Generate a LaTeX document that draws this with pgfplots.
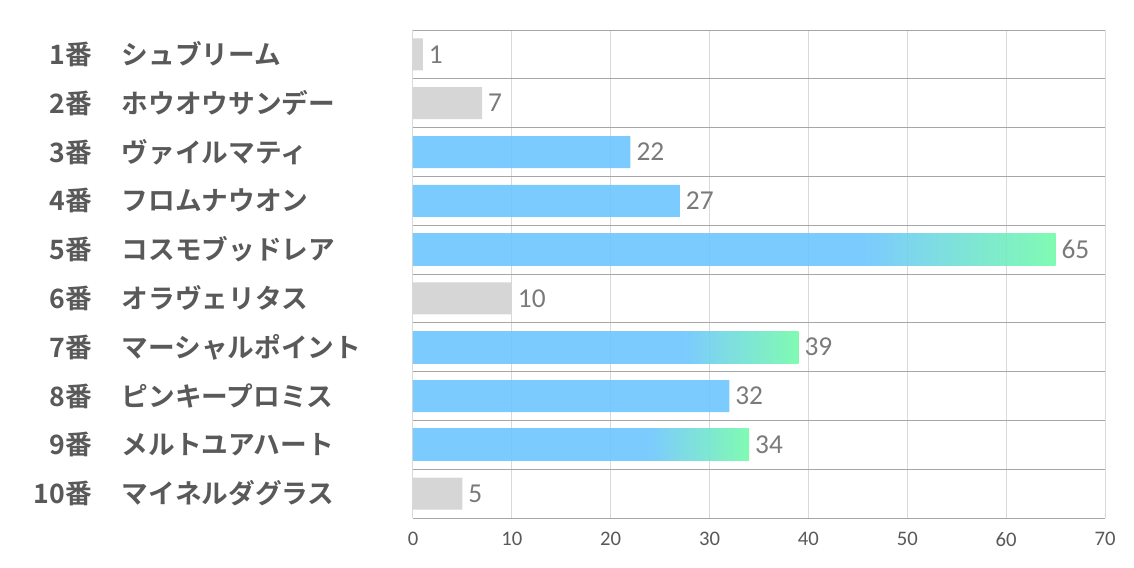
\documentclass[border=0pt]{standalone}
\usepackage{pgfplots}
\pgfplotsset{compat=1.18}
\usepackage{fontspec}
\setmainfont{Carlito}
\newfontfamily\jp{Noto Sans CJK JP Bold}
\definecolor{barblue}{RGB}{110,197,255}
\definecolor{bargreen}{RGB}{114,250,170}
\definecolor{bargray}{RGB}{214,214,214}
\definecolor{sepgray}{RGB}{166,166,166}
\definecolor{gridgray}{RGB}{217,217,217}
\definecolor{txtgray}{RGB}{89,89,89}
\definecolor{valgray}{RGB}{122,122,122}
\pgfdeclarehorizontalshading{barshade}{100bp}{color(0bp)=(barblue); color(25bp)=(barblue); color(60bp)=(barblue); color(75bp)=(bargreen); color(100bp)=(bargreen)}
\newcommand{\lab}[2]{\makebox[46.5pt][r]{#1}\hspace{22.5pt}\makebox[193.5pt][l]{#2}}
\begin{document}
\begin{tikzpicture}
\begin{axis}[
  scale only axis, width=519pt, height=366pt,
  xmin=0, xmax=70, ymin=-0.5, ymax=9.5, y dir=reverse,
  xtick={0,10,20,30,40,50,60,70},
  ytick={0,1,2,3,4,5,6,7,8,9},
  yticklabels={
    {\lab{1番}{シュブリーム}},
    {\lab{2番}{ホウオウサンデー}},
    {\lab{3番}{ヴァイルマティ}},
    {\lab{4番}{フロムナウオン}},
    {\lab{5番}{コスモブッドレア}},
    {\lab{6番}{オラヴェリタス}},
    {\lab{7番}{マーシャルポイント}},
    {\lab{8番}{ピンキープロミス}},
    {\lab{9番}{メルトユアハート}},
    {\lab{10番}{マイネルダグラス}}},
  yticklabel style={font=\jp\fontsize{20}{22}\selectfont, text=txtgray, anchor=east, inner sep=0pt, xshift=-24.75pt},
  xticklabel style={font=\fontsize{15.5}{17}\selectfont, text=txtgray, yshift=-7pt},
  /pgf/number format/assume math mode=true,
  minor ytick={-0.5,0.5,1.5,2.5,3.5,4.5,5.5,6.5,7.5,8.5,9.5},
  xmajorgrids, major grid style={gridgray, line width=0.75pt},
  yminorgrids, minor grid style={sepgray, line width=0.75pt},
  major tick length=0pt, minor tick length=0pt,
  axis line style={draw=none},
  xbar, bar width=24pt, bar shift=0pt,
  nodes near coords,
  nodes near coords style={font=\fontsize{20.5}{22}\selectfont, text=valgray, anchor=west, xshift=1pt},
  clip=false,
]
\addplot[draw=none, fill=bargray] coordinates {(1,0) (7,1) (10,5) (5,9)};
\addplot[draw=none, fill=barblue, fill opacity=0.9, text opacity=1] coordinates {(22,2) (27,3) (32,7)};
\addplot[draw=none, shade, shading=barshade, fill opacity=0.9, text opacity=1] coordinates {(65,4)};
\addplot[draw=none, shade, shading=barshade, fill opacity=0.9, text opacity=1] coordinates {(39,6)};
\addplot[draw=none, shade, shading=barshade, fill opacity=0.9, text opacity=1] coordinates {(34,8)};
\end{axis}
\path (current axis.south west) ++(-309.75pt,-36.75pt) rectangle ++(850.5pt,425.25pt);
\end{tikzpicture}
\end{document}
